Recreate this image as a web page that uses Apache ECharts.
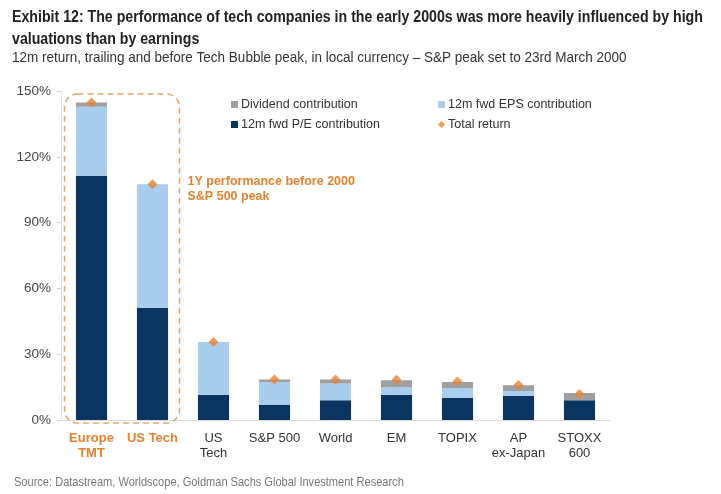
<!DOCTYPE html>
<html>
<head>
<meta charset="utf-8">
<script src="https://cdn.jsdelivr.net/npm/echarts@6/dist/echarts.min.js"></script>
<style>
  html, body { margin: 0; padding: 0; background: #fff; }
  #chart { width: 721px; height: 494px; }
</style>
</head>
<body>
<div id="chart"></div>
<script>
// values, in %
const categories = ['Europe\nTMT', 'US Tech', 'US\nTech', 'S&P 500', 'World', 'EM', 'TOPIX', 'AP\nex-Japan', 'STOXX\n600']
const peContribution = [111.4, 51.2, 11.5, 6.8, 9.0, 11.5, 10.0, 11.1, 9.0]
const epsContribution = [31.4, 56.3, 24.1, 10.5, 7.6, 3.4, 4.6, 2.1, 0]
const dividendContribution = [1.9, 0, 0, 1.2, 1.9, 3.2, 2.7, 2.6, 3.3]
const totalReturn = [144.7, 107.5, 35.6, 18.5, 18.5, 18.3, 17.5, 16.0, 11.8]
const highlighted = 2 // first two categories sit in the dashed box
const yTicks = { min: 0, max: 150, interval: 30 }

const NAVY = '#0a3560'
const LIGHT = '#a9cdec'
const GREY = '#9f9f9f'
const ORANGE = '#e8822e'
const FONT = '"Liberation Sans", Arial, sans-serif'

const chart = echarts.init(document.getElementById('chart'))

function legendAt(name, left, top, icon) {
  return {
    data: [{ name, icon }],
    left, top,
    itemWidth: 7, itemHeight: 7,
    itemGap: 4,
    selectedMode: false,
    textStyle: { color: '#333', fontSize: 12.5, fontFamily: FONT, padding: [0, 0, 0, -2] }
  }
}

// condensed-looking heading text: normal font squeezed sideways
function squeezed(text, x, y, font, fill, scaleX) {
  return { type: 'text', x, y, scaleX, style: { text, font, fill, lineHeight: 22 } }
}

const option = {
  animation: false,
  backgroundColor: '#fff',
  legend: [
    legendAt('Dividend contribution', 226, 93, 'rect'),
    legendAt('12m fwd EPS contribution', 433, 93, 'rect'),
    legendAt('12m fwd P/E contribution', 226, 113, 'rect'),
    legendAt('Total return', 433, 113, 'diamond')
  ],
  grid: { left: 61, right: 111, top: 91, bottom: 74 },
  xAxis: {
    type: 'category',
    data: categories,
    axisLine: { lineStyle: { color: '#dcdcdc' } },
    axisTick: { show: false },
    axisLabel: {
      interval: 0,
      margin: 11,
      fontFamily: FONT,
      fontSize: 13,
      lineHeight: 15,
      color: '#333',
      formatter: (v, i) => i < highlighted ? '{hl|' + v.split('\n').join('}\n{hl|') + '}' : v,
      rich: { hl: { color: ORANGE, fontWeight: 'bold', fontSize: 13, lineHeight: 15, fontFamily: FONT } }
    }
  },
  yAxis: {
    type: 'value',
    min: yTicks.min, max: yTicks.max, interval: yTicks.interval,
    axisLine: { show: true, lineStyle: { color: '#e4e4e4' } },
    axisTick: { show: true, length: 4, lineStyle: { color: '#d0d0d0' } },
    splitLine: { show: false },
    axisLabel: { formatter: '{value}%', color: '#444', fontSize: 13.5, fontFamily: FONT, margin: 10 }
  },
  series: [
    { name: '12m fwd P/E contribution', type: 'bar', stack: 'r', data: peContribution, barWidth: '51%', itemStyle: { color: NAVY } },
    { name: '12m fwd EPS contribution', type: 'bar', stack: 'r', data: epsContribution, itemStyle: { color: LIGHT } },
    { name: 'Dividend contribution', type: 'bar', stack: 'r', data: dividendContribution, itemStyle: { color: GREY } },
    { name: 'Total return', type: 'scatter', data: totalReturn, symbol: 'diamond', symbolSize: 10, itemStyle: { color: ORANGE }, z: 5 }
  ]
}

chart.setOption(option)

// dashed box round the first two bars plus its note, placed from the axis scales
const topLeft = chart.convertToPixel({ gridIndex: 0 }, [0, yTicks.max])
const bottomRight = chart.convertToPixel({ gridIndex: 0 }, [highlighted - 1, 0])
const half = 27
chart.setOption({
  graphic: [
    squeezed('Exhibit 12: The performance of tech companies in the early 2000s was more heavily influenced by high\nvaluations than by earnings',
      12, 7, 'bold 16px ' + FONT, '#222', 0.885),
    squeezed('12m return, trailing and before Tech Bubble peak, in local currency \u2013 S&P peak set to 23rd March 2000',
      12, 47, '15px ' + FONT, '#333', 0.9),
    squeezed('Source: Datastream, Worldscope, Goldman Sachs Global Investment Research',
      14, 471, '13px ' + FONT, '#777', 0.85),
    {
      type: 'rect',
      shape: { x: topLeft[0] - half, y: topLeft[1] + 3, width: bottomRight[0] - topLeft[0] + half * 2, height: bottomRight[1] - topLeft[1], r: 13 },
      style: { fill: 'none', stroke: '#e9a56a', lineWidth: 1.5, lineDash: [6, 4] },
      z: 10
    },
    {
      type: 'text',
      left: bottomRight[0] + half + 8, top: 174,
      style: { text: '1Y performance before 2000\nS&P 500 peak', fill: ORANGE, font: 'bold 12.5px ' + FONT, lineHeight: 15 },
      z: 10
    }
  ]
})
</script>
</body>
</html>
